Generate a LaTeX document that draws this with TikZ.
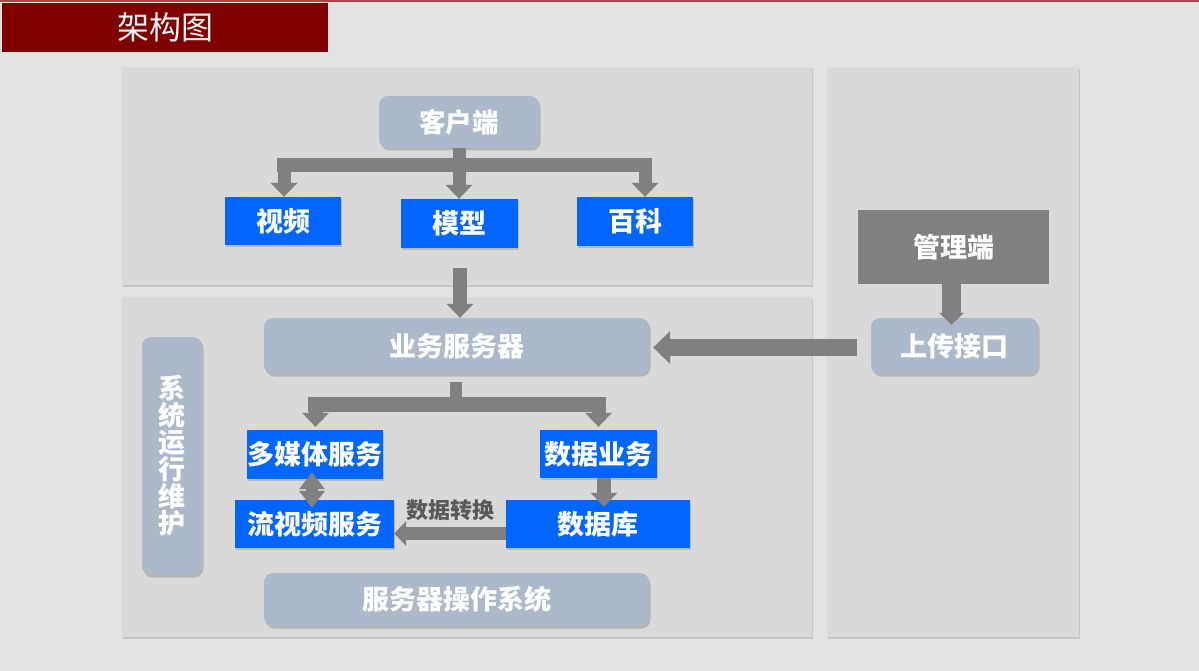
\documentclass[tikz,border=0pt]{standalone}
\usepackage{fontspec}
\setmainfont{Noto Sans CJK SC}
\usetikzlibrary{arrows.meta,shadows}
\definecolor{bg}{HTML}{E3E3E3}
\definecolor{panel}{HTML}{D9D9D9}
\definecolor{titlered}{HTML}{800000}
\definecolor{topline}{HTML}{B04545}
\definecolor{steel}{HTML}{ADB9CA}
\definecolor{blu}{HTML}{0066FF}
\definecolor{agray}{HTML}{808080}
\definecolor{lblgray}{HTML}{595959}
\tikzset{
  panelbox/.style={fill=panel, draw=none, drop shadow={shadow xshift=1.2pt, shadow yshift=-1.6pt, opacity=0.3}},
  steelbox/.style={fill=steel, draw=none, rounded corners=9pt, inner sep=0pt, text=white,
    font=\fontsize{27}{27}\selectfont\bfseries,
    drop shadow={shadow xshift=1.5pt, shadow yshift=-2.5pt, opacity=0.4}},
  bluebox/.style={fill=blu, draw=none, inner sep=0pt, text=white,
    font=\fontsize{27}{27}\selectfont\bfseries,
    drop shadow={shadow xshift=1.2pt, shadow yshift=-2pt, opacity=0.35}},
  graybox/.style={fill=agray, draw=none, inner sep=0pt, text=white,
    font=\fontsize{27}{27}\selectfont\bfseries},
  fatline/.style={draw=agray, line width=#1},
  tipA/.style={-{Triangle[length=14pt,width=27pt,line width=0pt]}},
  tipB/.style={-{Triangle[length=17pt,width=33pt,line width=0pt]}},
  tipC/.style={{Triangle[length=17pt,width=26pt,line width=0pt]}-{Triangle[length=17pt,width=26pt,line width=0pt]}},
  tipD/.style={-{Triangle[length=12pt,width=25pt,line width=0pt]}},
}
\begin{document}
\begin{tikzpicture}[x=1pt,y=-1pt]
\useasboundingbox (0,0) rectangle (1199,671);
\fill[bg] (0,0) rectangle (1199,671);
\draw[topline, line width=2pt] (0,1) -- (1199,1);
% title
\node[fill=titlered, minimum width=326, minimum height=49, inner sep=0pt, anchor=north west,
  text=white!92!gray, font=\fontsize{32}{34}\selectfont] (title) at (2,3) {架构图};
% panels
\fill[panelbox] (122,67) rectangle (812,285);
\fill[panelbox] (122,297) rectangle (812,637);
\fill[panelbox] (827,67) rectangle (1079,637);
% top panel nodes
\node[steelbox, minimum width=160, minimum height=52, font=\fontsize{26.5}{27}\selectfont\bfseries] (kehu) at (459,122) {客户端};
\node[bluebox, minimum width=116, minimum height=48] (shipin) at (283,221) {视频};
\node[bluebox, minimum width=117, minimum height=49] (moxing) at (459.5,223.5) {模型};
\node[bluebox, minimum width=116, minimum height=49] (baike) at (635,221.5) {百科};
% bottom panel nodes
\node[steelbox, minimum width=385, minimum height=56] (yewu) at (456.5,346) {业务服务器};
\node[steelbox, minimum width=60, minimum height=238, align=center] (weihu) at (172,456) {系\\统\\运\\行\\维\\护};
\node[bluebox, minimum width=136, minimum height=49] (duomeiti) at (315,454.5) {多媒体服务};
\node[bluebox, minimum width=117, minimum height=48] (sjyw) at (598.5,454) {数据业务};
\node[bluebox, minimum width=159, minimum height=48] (liushipin) at (314.5,524) {流视频服务};
\node[bluebox, minimum width=184, minimum height=48] (shujuku) at (598,524) {数据库};
\node[steelbox, minimum width=385, minimum height=53] (caozuo) at (456.5,599.5) {服务器操作系统};
% right panel nodes
\node[graybox, minimum width=191, minimum height=74] (guanli) at (953.5,247) {管理端};
\node[steelbox, minimum width=167, minimum height=56] (shangchuan) at (954.5,346) {上传接口};
% bracket 1
\coordinate (b1L) at (284,165);
\coordinate (b1R) at (645,165);
\draw[fatline=13] (kehu.south) -- (kehu.south |- b1L);
\draw[fatline=14, line cap=rect] (b1L) -- (b1R);
\draw[fatline=13, tipA] (b1L) -- (b1L |- shipin.north);
\draw[fatline=13, tipA] (kehu.south |- b1L) -- (kehu.south |- moxing.north);
\draw[fatline=13, tipA] (b1R) -- (b1R |- baike.north);
% between panels
\coordinate (p1) at (460,268);
\draw[fatline=14, tipA] (p1) -- (p1 |- yewu.north);
% bracket 2
\coordinate (s2) at (456,382);
\coordinate (b2L) at (315.5,404.5);
\coordinate (b2R) at (598.5,404.5);
\draw[fatline=12] (s2) -- (s2 |- b2L);
\draw[fatline=15, line cap=rect] (b2L) -- (b2R);
\draw[fatline=14, tipA] (b2L) -- ([yshift=3pt]b2L |- duomeiti.north);
\draw[fatline=14, tipA] (b2R) -- ([yshift=3pt]b2R |- sjyw.north);
% double arrow
\draw[fatline=12, tipC] ([xshift=-3pt,yshift=7pt]duomeiti.south) -- ([xshift=-2.5pt,yshift=-8pt]liushipin.north);
% data business -> database
\draw[fatline=14, tipA] ([xshift=5.5pt]sjyw.south) -- ([xshift=5.5pt,yshift=-7pt]sjyw.south |- shujuku.north);
% data conversion
\draw[fatline=13, tipD] ([yshift=-9.5pt]shujuku.west) -- ([yshift=-9.5pt]shujuku.west -| liushipin.east)
  node[midway, above=3pt, text=lblgray, font=\fontsize{22}{22}\selectfont\bfseries] (zh) {数据转换};
% management
\draw[fatline=19, tipD] ([xshift=-2pt]guanli.south) -- ([xshift=-2pt,yshift=-7pt]guanli.south |- shangchuan.north);
% upload -> business server
\draw[fatline=17, tipB] ([xshift=-14pt,yshift=-1.5pt]shangchuan.west) -- ([xshift=4pt,yshift=-1.5pt]yewu.east);
\end{tikzpicture}
\end{document}
